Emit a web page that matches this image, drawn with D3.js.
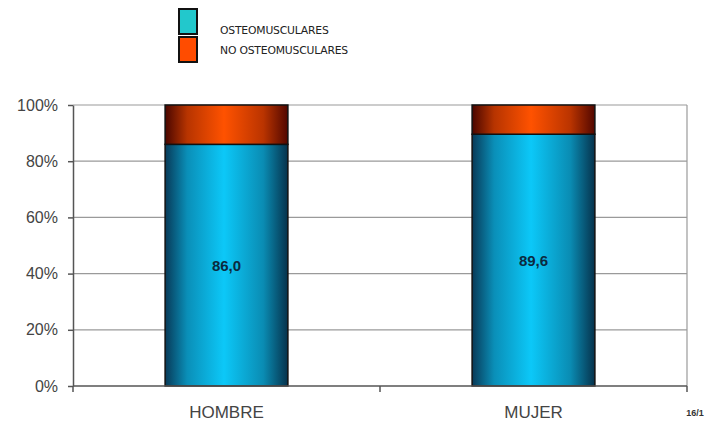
<!DOCTYPE html>
<html>
<head>
<meta charset="utf-8">
<script src="https://cdn.jsdelivr.net/npm/d3@7/dist/d3.min.js"></script>
<style>
  html, body { margin: 0; padding: 0; background: #fff; }
  svg { display: block; }
</style>
</head>
<body>
<svg id="chart" width="710" height="425"></svg>
<script>
// Stacked 100% bars: share of osteomuscular vs non-osteomuscular cases by sex
const categories = ["HOMBRE", "MUJER"];
const osteomusculares = [86.0, 89.6];
const noOsteomusculares = [14.0, 10.4];
const seriesNames = ["OSTEOMUSCULARES", "NO OSTEOMUSCULARES"];
const yTicks = [0, 20, 40, 60, 80, 100];
const footnote = "16/1";

const rows = categories.map((c, i) => ({
  cat: c,
  osteo: osteomusculares[i],
  noOsteo: noOsteomusculares[i]
}));

const svg = d3.select("#chart");
const margin = { top: 105, right: 23, bottom: 39, left: 73 };
const W = 710, H = 425;
const iw = W - margin.left - margin.right;
const ih = H - margin.top - margin.bottom;

const g = svg.append("g").attr("transform", `translate(${margin.left},${margin.top})`);

const x = d3.scaleBand().domain(categories).range([0, iw]).paddingInner(0.6).paddingOuter(0.3);
const y = d3.scaleLinear().domain([0, 100]).range([ih, 0]);

// cylinder-like shading for each series
const defs = svg.append("defs");
function shade(id, edgeL, mid, edgeR) {
  const lg = defs.append("linearGradient").attr("id", id)
    .attr("x1", "0%").attr("x2", "100%").attr("y1", "0%").attr("y2", "0%");
  lg.append("stop").attr("offset", "0%").attr("stop-color", edgeL);
  lg.append("stop").attr("offset", "18%").attr("stop-color", d3.interpolateRgb(edgeL, mid)(0.6));
  lg.append("stop").attr("offset", "48%").attr("stop-color", mid);
  lg.append("stop").attr("offset", "80%").attr("stop-color", d3.interpolateRgb(edgeR, mid)(0.6));
  lg.append("stop").attr("offset", "100%").attr("stop-color", edgeR);
}
shade("gBlue", "#083a58", "#0cc8f8", "#06324c");
shade("gOrange", "#4a0600", "#ff5200", "#520700");

// gridlines
g.append("g").selectAll("line").data(yTicks.filter(t => t > 0)).join("line")
  .attr("x1", 0).attr("x2", iw)
  .attr("y1", d => y(d)).attr("y2", d => y(d))
  .attr("stroke", "#9a9a9a").attr("stroke-width", 1.2);

// right border of plot area
g.append("line")
  .attr("x1", iw).attr("x2", iw).attr("y1", 0).attr("y2", ih)
  .attr("stroke", "#9a9a9a").attr("stroke-width", 1.2);

// bars
const bars = g.append("g").selectAll("g").data(rows).join("g");
bars.append("rect")
  .attr("x", d => x(d.cat)).attr("width", x.bandwidth())
  .attr("y", d => y(d.osteo)).attr("height", d => y(0) - y(d.osteo))
  .attr("fill", "url(#gBlue)").attr("stroke", "#111").attr("stroke-width", 1.5);
bars.append("rect")
  .attr("x", d => x(d.cat)).attr("width", x.bandwidth())
  .attr("y", d => y(d.osteo + d.noOsteo)).attr("height", d => y(d.osteo) - y(d.osteo + d.noOsteo))
  .attr("fill", "url(#gOrange)").attr("stroke", "#111").attr("stroke-width", 1.5);

const es = d3.formatLocale({ decimal: ",", thousands: ".", grouping: [3], currency: ["", "€"] });
const fmt = es.format(".1f");
bars.append("text")
  .attr("x", d => x(d.cat) + x.bandwidth() / 2)
  .attr("y", d => (y(0) + y(d.osteo)) / 2)
  .attr("dy", "0.36em")
  .attr("text-anchor", "middle")
  .attr("font-family", "Arial, 'Liberation Sans', sans-serif")
  .attr("font-weight", "bold").attr("font-size", 15)
  .attr("fill", "#0b2a40")
  .text(d => fmt(d.osteo));

// y axis
const yAxis = g.append("g")
  .call(d3.axisLeft(y).tickValues(yTicks).tickFormat(d => d + "%").tickSize(5).tickSizeOuter(0));
yAxis.select(".domain").attr("stroke", "#555").attr("stroke-width", 1.5);
yAxis.selectAll(".tick line").attr("stroke", "#555").attr("stroke-width", 1.5);
yAxis.selectAll(".tick text")
  .attr("x", -15)
  .attr("font-family", "Arial, 'Liberation Sans', sans-serif")
  .attr("font-size", 16).attr("fill", "#444");

// x axis with boundary ticks between categories
const xa = g.append("g").attr("transform", `translate(0,${ih})`);
xa.append("line").attr("x1", 0).attr("x2", iw).attr("y1", 0).attr("y2", 0)
  .attr("stroke", "#555").attr("stroke-width", 1.5);
const bounds = [0, iw / 2, iw];
xa.selectAll("line.b").data(bounds).join("line").attr("class", "b")
  .attr("x1", d => d).attr("x2", d => d).attr("y1", 0).attr("y2", 6)
  .attr("stroke", "#555").attr("stroke-width", 1.5);
xa.selectAll("text").data(categories).join("text")
  .attr("x", d => x(d) + x.bandwidth() / 2)
  .attr("y", 32)
  .attr("text-anchor", "middle")
  .attr("font-family", "Arial, 'Liberation Sans', sans-serif")
  .attr("font-size", 17).attr("fill", "#444")
  .text(d => d);

// legend
const legend = svg.append("g").attr("transform", "translate(179,9)");
const swatchFill = ["#22c8cc", "#ff4c00"];
legend.selectAll("rect").data(seriesNames).join("rect")
  .attr("x", 0).attr("y", (d, i) => i * 28)
  .attr("width", 18).attr("height", 25)
  .attr("fill", (d, i) => swatchFill[i])
  .attr("stroke", "#111").attr("stroke-width", 2);
legend.selectAll("text").data(seriesNames).join("text")
  .attr("x", 41).attr("y", (d, i) => 21 + i * 20)
  .attr("dy", "0.35em")
  .attr("font-family", "'DejaVu Sans', Verdana, sans-serif")
  .attr("font-size", 10.8).attr("fill", "#222")
  .attr("letter-spacing", -0.2)
  .text(d => d);

svg.append("text")
  .attr("x", 695).attr("y", 416)
  .attr("text-anchor", "middle")
  .attr("font-family", "Arial, 'Liberation Sans', sans-serif")
  .attr("font-weight", "bold").attr("font-size", 9).attr("fill", "#333")
  .text(footnote);
</script>
</body>
</html>
